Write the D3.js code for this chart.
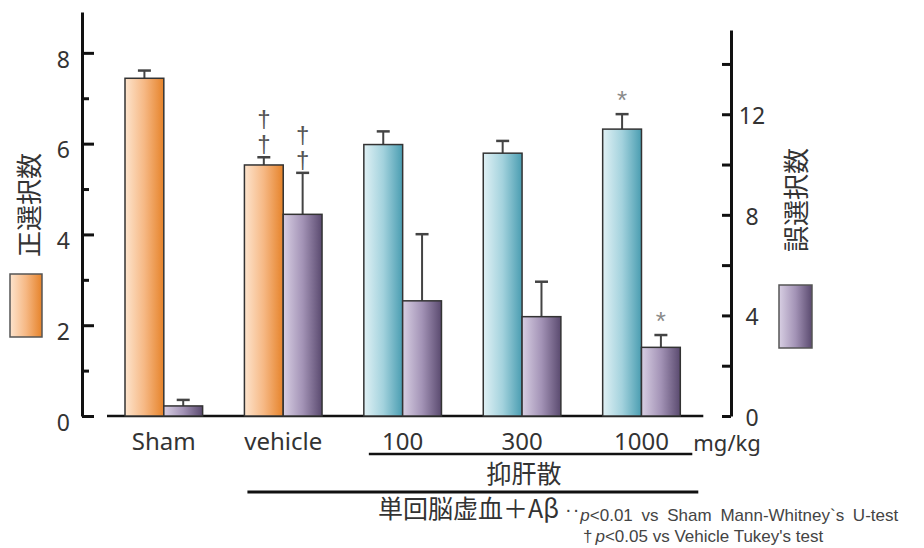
<!DOCTYPE html>
<html>
<head>
<meta charset="utf-8">
<script src="https://cdn.jsdelivr.net/npm/d3@7"></script>
<style>
    body { margin: 0; background: #fff; }
    svg { display: block; }
    .latin { font-family: "Noto Sans", "Open Sans", sans-serif; fill: #333; }
    .cjk { font-family: "Noto Sans CJK JP", sans-serif; fill: #333; }
    .note { font-family: "Liberation Sans", Arial, sans-serif; fill: #444; }
</style>
</head>
<body>
<div id="chart"></div>
<script>
// Data (mean + SEM, error bars up only)
var categories = ["Sham", "vehicle", "100", "300", "1000"];
var doseCategories = ["100", "300", "1000"];
var correctMean = [7.44, 5.53, 5.98, 5.79, 6.32];
var correctSem = [0.17, 0.17, 0.29, 0.27, 0.33];
var errorMean = [0.40, 8.02, 4.58, 3.95, 2.73];
var errorSem = [0.24, 1.65, 2.65, 1.39, 0.49];
var correctMarks = ["", "††", "", "", "*"];
var errorMarks = ["", "††", "", "", "*"];
var leftTicks = [0, 2, 4, 6, 8];
var leftMinorTicks = [1, 3, 5, 7];
var rightTicks = [0, 4, 8, 12];
var rightMinorTicks = [2, 6, 10, 14];
var leftLabel = "正選択数";
var rightLabel = "誤選択数";
var unitLabel = "mg/kg";
var drugLabel = "抑肝散";
var modelLabel = "単回脳虚血＋Aβ";
var footnotes = [
    { mark: "··", text: "<0.01 vs Sham Mann-Whitney`s  U-test" },
    { mark: "†", text: "<0.05 vs Vehicle Tukey's test" }
];

var width = 924, height = 548;
var baseY = 416;

var svg = d3.select("#chart").append("svg")
    .attr("width", width)
    .attr("height", height);

// horizontal gradients for the bars
var gradients = {
    orange: ["#fde4cd", "#f6b884", "#e6832a"],
    cyan: ["#e0f1f5", "#a3d2dd", "#4a9db1"],
    purple: ["#d8cfe3", "#a393b6", "#5a4a6f"]
};
var defs = svg.append("defs");
Object.keys(gradients).forEach(function (key) {
    var g = defs.append("linearGradient")
        .attr("id", "grad-" + key)
        .attr("x1", 0).attr("x2", 1).attr("y1", 0).attr("y2", 0);
    gradients[key].forEach(function (c, i) {
        g.append("stop").attr("offset", (i / 2)).attr("stop-color", c);
    });
});

var x = d3.scaleBand().domain(categories).range([125, 680.3]).paddingInner(0.35).paddingOuter(0);
var xSeries = d3.scaleBand().domain(["correct", "error"]).range([0, x.bandwidth()]);
var yLeft = d3.scaleLinear().domain([0, 8.9]).range([baseY, 12]);
var yRight = d3.scaleLinear().domain([0, 15.35]).range([baseY, 30]);

// baseline
svg.append("line")
    .attr("x1", x.range()[0] - 18).attr("x2", x.range()[1] + 23)
    .attr("y1", baseY).attr("y2", baseY)
    .attr("stroke", "#111").attr("stroke-width", 2.5);

// left axis: ticks point into the plot
var leftAxis = svg.append("g").attr("transform", "translate(82,0)")
    .call(d3.axisLeft(yLeft).tickValues(leftTicks).tickSizeInner(-12).tickSizeOuter(0).tickPadding(12));
leftAxis.append("g")
    .call(d3.axisLeft(yLeft).tickValues(leftMinorTicks).tickSizeInner(-7).tickSizeOuter(0).tickFormat(""))
    .select(".domain").remove();

var rightAxis = svg.append("g").attr("transform", "translate(731,0)")
    .call(d3.axisRight(yRight).tickValues(rightTicks).tickSizeInner(-9).tickSizeOuter(0).tickPadding(21));
rightAxis.append("g")
    .call(d3.axisRight(yRight).tickValues(rightMinorTicks).tickSizeInner(-9).tickSizeOuter(0).tickFormat(""))
    .select(".domain").remove();

[leftAxis, rightAxis].forEach(function (ax) {
    ax.selectAll(".domain").attr("stroke", "#111").attr("stroke-width", 3);
    ax.selectAll("line").attr("stroke", "#111").attr("stroke-width", 3);
    ax.selectAll("text")
        .attr("class", "latin")
        .attr("dy", "0.62em")
        .style("font-size", "23px");
});
rightAxis.selectAll("text").attr("text-anchor", "middle").attr("dy", "0.4em");

// bars
var rows = categories.map(function (c, i) {
    return {
        cat: c,
        correct: correctMean[i], correctSem: correctSem[i], correctMark: correctMarks[i],
        error: errorMean[i], errorSem: errorSem[i], errorMark: errorMarks[i],
        treated: doseCategories.indexOf(c) >= 0
    };
});

var groups = svg.append("g").attr("class", "bars").selectAll("g")
    .data(rows).enter().append("g")
    .attr("transform", function (d) { return "translate(" + x(d.cat) + ",0)"; });

function drawSeries(key, scale, fill) {
    var bx = xSeries(key), bw = xSeries.bandwidth(), cx = bx + bw / 2;
    // error bar first so the bar outline covers its foot
    groups.append("line")
        .attr("x1", cx).attr("x2", cx)
        .attr("y1", function (d) { return scale(d[key]); })
        .attr("y2", function (d) { return scale(d[key] + d[key + "Sem"]); })
        .attr("stroke", "#444").attr("stroke-width", 2);
    groups.append("line")
        .attr("x1", cx - 6.5).attr("x2", cx + 6.5)
        .attr("y1", function (d) { return scale(d[key] + d[key + "Sem"]); })
        .attr("y2", function (d) { return scale(d[key] + d[key + "Sem"]); })
        .attr("stroke", "#444").attr("stroke-width", 2.5);
    groups.append("rect")
        .attr("x", bx).attr("width", bw)
        .attr("y", function (d) { return scale(d[key]); })
        .attr("height", function (d) { return baseY - scale(d[key]); })
        .attr("fill", fill)
        .attr("stroke", "#333").attr("stroke-width", 1.5);

    // significance marks above the cap
    groups.each(function (d) {
        var mark = d[key + "Mark"];
        if (!mark) return;
        var capY = scale(d[key] + d[key + "Sem"]);
        var g = d3.select(this);
        if (mark === "*") {
            g.append("text").attr("class", "note")
                .attr("x", cx).attr("y", capY - 5)
                .attr("text-anchor", "middle")
                .style("fill", "#8a8a8a")
                .style("font-size", "26px")
                .text("*");
        } else {
            // two daggers stacked
            mark.split("").forEach(function (m, j) {
                g.append("text").attr("class", "note")
                    .attr("x", cx).attr("y", capY - 5 - (1 - j) * 25)
                    .attr("text-anchor", "middle")
                    .style("fill", "#555")
                    .style("font-size", "24px")
                    .text(m);
            });
        }
    });
}
drawSeries("correct", yLeft, function (d) { return d.treated ? "url(#grad-cyan)" : "url(#grad-orange)"; });
drawSeries("error", yRight, "url(#grad-purple)");

// category labels
svg.append("g").selectAll("text")
    .data(categories).enter().append("text")
    .attr("class", "latin")
    .attr("x", function (d) { return x(d) + x.bandwidth() / 2; })
    .attr("y", 450)
    .attr("text-anchor", "middle")
    .style("font-size", "24px")
    .text(function (d) { return d; });

svg.append("text").attr("class", "latin")
    .attr("x", x.range()[1] + 13).attr("y", 451)
    .style("font-size", "22px")
    .text(unitLabel);

// group brackets
var doseStart = x(doseCategories[0]), doseEnd = x(doseCategories[doseCategories.length - 1]) + x.bandwidth();
svg.append("line")
    .attr("x1", doseStart + 5).attr("x2", doseEnd + 12)
    .attr("y1", 454).attr("y2", 454)
    .attr("stroke", "#111").attr("stroke-width", 2.5);
svg.append("text").attr("class", "cjk")
    .attr("x", (doseStart + doseEnd) / 2 + 2).attr("y", 483)
    .attr("text-anchor", "middle")
    .style("font-size", "25px")
    .text(drugLabel);

svg.append("line")
    .attr("x1", x("vehicle") + 3).attr("x2", doseEnd + 18)
    .attr("y1", 492).attr("y2", 492)
    .attr("stroke", "#111").attr("stroke-width", 3);
svg.append("text").attr("class", "cjk")
    .attr("x", 378).attr("y", 518)
    .style("font-size", "25px")
    .text(modelLabel);

// footnotes
var notes = svg.append("g").style("font-size", "17px");
footnotes.forEach(function (f, i) {
    var t = notes.append("text")
        .attr("class", "note")
        .attr("x", i === 0 ? 565 : 583)
        .attr("y", i === 0 ? 521 : 542)
        .style("word-spacing", i === 0 ? "4px" : "0px");
    t.append("tspan")
        .attr("dy", i === 0 ? -5 : 0)
        .style("font-size", i === 0 ? "20px" : "17px")
        .style("letter-spacing", i === 0 ? "1px" : "0px")
        .text(f.mark);
    t.append("tspan").attr("dy", i === 0 ? 5 : 0).attr("dx", i === 0 ? 0 : 3).style("font-style", "italic").text("p");
    t.append("tspan").text(f.text);
});

// axis titles with legend swatches
svg.append("text").attr("class", "cjk")
    .attr("transform", "translate(39,205) rotate(-90)")
    .attr("text-anchor", "middle")
    .style("font-size", "26px")
    .text(leftLabel);
svg.append("rect")
    .attr("x", 10).attr("y", 274).attr("width", 32).attr("height", 63)
    .attr("fill", "url(#grad-orange)").attr("stroke", "#555").attr("stroke-width", 1.5);

svg.append("text").attr("class", "cjk")
    .attr("transform", "translate(806,200) rotate(-90)")
    .attr("text-anchor", "middle")
    .style("font-size", "26px")
    .text(rightLabel);
svg.append("rect")
    .attr("x", 779).attr("y", 285).attr("width", 33).attr("height", 63)
    .attr("fill", "url(#grad-purple)").attr("stroke", "#555").attr("stroke-width", 1.5);
</script>
</body>
</html>
